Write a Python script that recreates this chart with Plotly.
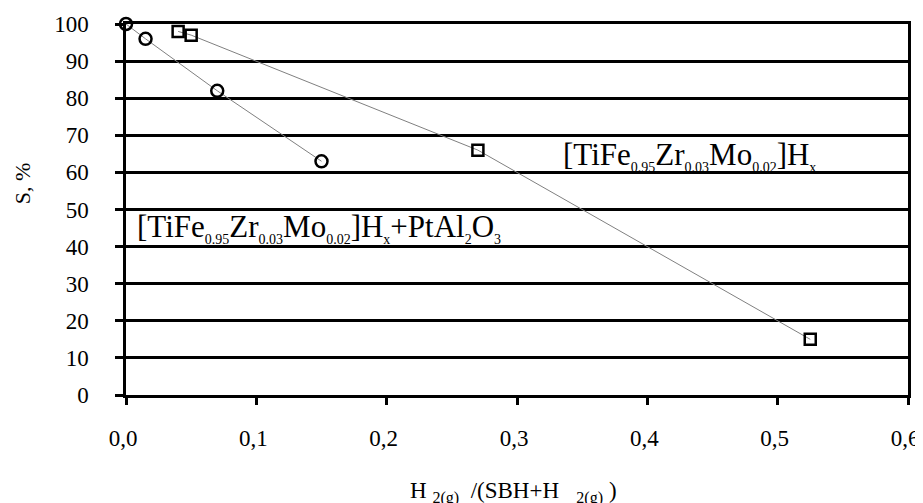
import plotly.graph_objects as go

# Data
x_pt = [0.0, 0.015, 0.07, 0.15]
s_pt = [100, 96, 82, 63]
x_plain = [0.04, 0.05, 0.27, 0.525]
s_plain = [98, 97, 66, 15]

x_ticks = [0.0, 0.1, 0.2, 0.3, 0.4, 0.5, 0.6]
x_tick_labels = ["0,0", "0,1", "0,2", "0,3", "0,4", "0,5", "0,6"]
y_ticks = list(range(0, 101, 10))

FONT = "Liberation Serif, Times New Roman, serif"


def sub(t, px=14):
    return f"<sub><span style='font-size:{px}px'>{t}</span></sub>"


label_pt = ("[TiFe" + sub("0.95") + "Zr" + sub("0.03") + "Mo" + sub("0.02") + "]H" + sub("x")
            + "+PtAl" + sub("2") + "O" + sub("3"))
label_plain = "[TiFe" + sub("0.95") + "Zr" + sub("0.03") + "Mo" + sub("0.02") + "]H" + sub("x")

fig = go.Figure()
fig.add_trace(go.Scatter(
    x=x_pt, y=s_pt, mode="lines+markers",
    line=dict(color="#808080", width=1),
    marker=dict(symbol="circle-open", size=12, color="black", line=dict(width=2.5, color="black")),
    showlegend=False, cliponaxis=False,
))
fig.add_trace(go.Scatter(
    x=x_plain, y=s_plain, mode="lines+markers",
    line=dict(color="#808080", width=1),
    marker=dict(symbol="square-open", size=11, color="black", line=dict(width=2.5, color="black")),
    showlegend=False, cliponaxis=False,
))

fig.add_annotation(
    x=0.0, y=45, xref="x", yref="y", xanchor="left", yanchor="middle", xshift=9,
    text=label_pt, showarrow=False, font=dict(family=FONT, size=31, color="black"),
)
fig.add_annotation(
    x=0.334, y=64.5, xref="x", yref="y", xanchor="left", yanchor="middle",
    text=label_plain, showarrow=False, font=dict(family=FONT, size=31, color="black"),
)

# axis titles
fig.add_annotation(
    x=0, y=0.571, xref="paper", yref="paper", xanchor="center", yanchor="middle",
    xshift=-104, textangle=-90, text="S, %", showarrow=False,
    font=dict(family=FONT, size=22, color="black"),
)
fig.add_annotation(
    x=0.496, y=-0.262, xref="paper", yref="paper", xanchor="center", yanchor="middle",
    text="H&nbsp;<sub>2(g)</sub>&nbsp;&nbsp;/(SBH+H&nbsp;&nbsp;&nbsp;<sub>2(g)</sub>&nbsp;)", showarrow=False,
    font=dict(family=FONT, size=23, color="black"),
)

fig.update_layout(
    width=915, height=495,
    margin=dict(l=118, r=15, t=16, b=108),
    paper_bgcolor="white", plot_bgcolor="white",
    font=dict(family=FONT, size=23, color="black"),
    xaxis=dict(
        range=[0, 0.6], tickvals=x_ticks, ticktext=x_tick_labels,
        showgrid=False, zeroline=False, automargin=False,
        showline=True, linecolor="black", linewidth=2.5, mirror=True,
        ticks="outside", ticklen=7, tickwidth=2.5, tickcolor="black",
        ticklabelstandoff=14, ticklabelshift=-3,
        tickfont=dict(family=FONT, size=23),
    ),
    yaxis=dict(
        range=[0, 100], tickvals=y_ticks,
        showgrid=True, gridcolor="black", gridwidth=3, zeroline=False, automargin=False,
        showline=True, linecolor="black", linewidth=2.5, mirror=True,
        ticks="outside", ticklen=8, tickwidth=3, tickcolor="black",
        ticklabelstandoff=22,
        tickfont=dict(family=FONT, size=23),
    ),
)

fig.write_html("out.html")
